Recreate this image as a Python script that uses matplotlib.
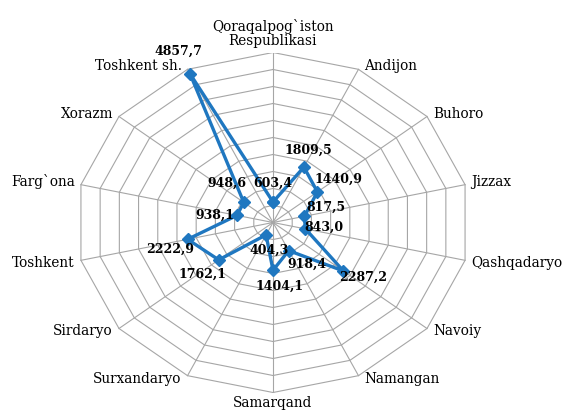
import numpy as np
import matplotlib
matplotlib.use("Agg")
import matplotlib.pyplot as plt

regions = ["Qoraqalpog`iston\nRespublikasi", "Andijon", "Buhoro", "Jizzax",
           "Qashqadaryo", "Navoiy", "Namangan", "Samarqand", "Surxandaryo",
           "Sirdaryo", "Toshkent", "Farg`ona", "Xorazm", "Toshkent sh."]
values = [603.4, 1809.5, 1440.9, 817.5, 843.0, 2287.2, 918.4,
          1404.1, 404.3, 1762.1, 2222.9, 938.1, 948.6, 4857.7]
r_max = 5000
r_step = 500

# label offsets in pixels (dx, dy) from the marker
label_offsets = [(0, 19), (4, 17), (21, 13), (22, 9), (19, 2), (20, -6), (18, -14),
                 (7, -16), (3, -15), (-16, -14), (-17, -10), (-22, 0), (-17, 19), (-12, 22)]

BLUE = "#1f77c0"
GRID = "#a6a6a6"
SERIF = "DejaVu Serif"

n = len(regions)
ang = np.pi / 2 - np.arange(n) * 2 * np.pi / n
ux, uy = np.cos(ang), np.sin(ang)

fig = plt.figure(figsize=(5.68, 4.12), dpi=100)
ax = fig.add_axes([76 / 568, 19.5 / 412, 394 / 568, 340 / 412])
ax.set_xlim(-1, 1)
ax.set_ylim(-1, 1)
ax.axis("off")

# rings and spokes
for lev in np.arange(r_step, r_max + 1, r_step):
    rr = lev / r_max
    ax.plot(np.append(ux, ux[0]) * rr, np.append(uy, uy[0]) * rr,
            color=GRID, lw=0.8, zorder=1)
for x, y in zip(ux, uy):
    ax.plot([0, x], [0, y], color=GRID, lw=0.8, zorder=1)

# series
v = np.array(values) / r_max
px, py = ux * v, uy * v
ax.plot(np.append(px, px[0]), np.append(py, py[0]), color=BLUE, lw=2.4,
        marker="D", ms=6, zorder=3)

for x, y, val, off in zip(px, py, values, label_offsets):
    ax.annotate(f"{val:.1f}".replace(".", ","), (x, y), xytext=off,
                textcoords="offset pixels", ha="center", va="center",
                fontsize=9, fontweight="bold", family=SERIF, zorder=4)

# category labels
for name, x, y in zip(regions, ux, uy):
    if abs(x) < 0.01:
        ha = "center"
    elif x > 0:
        ha = "left"
    else:
        ha = "right"
    if y > 0.99:
        va = "bottom"
        off = (0, 4)
    elif y < -0.99:
        va = "top"
        off = (0, -3)
    else:
        va = "center"
        off = (6 * np.sign(x), 3 * np.sign(y))
    ax.annotate(name, (x, y), xytext=off, textcoords="offset pixels",
                ha=ha, va=va, fontsize=9.8, family=SERIF, linespacing=1.05,
                annotation_clip=False)

fig.savefig("out.png", dpi=100)
